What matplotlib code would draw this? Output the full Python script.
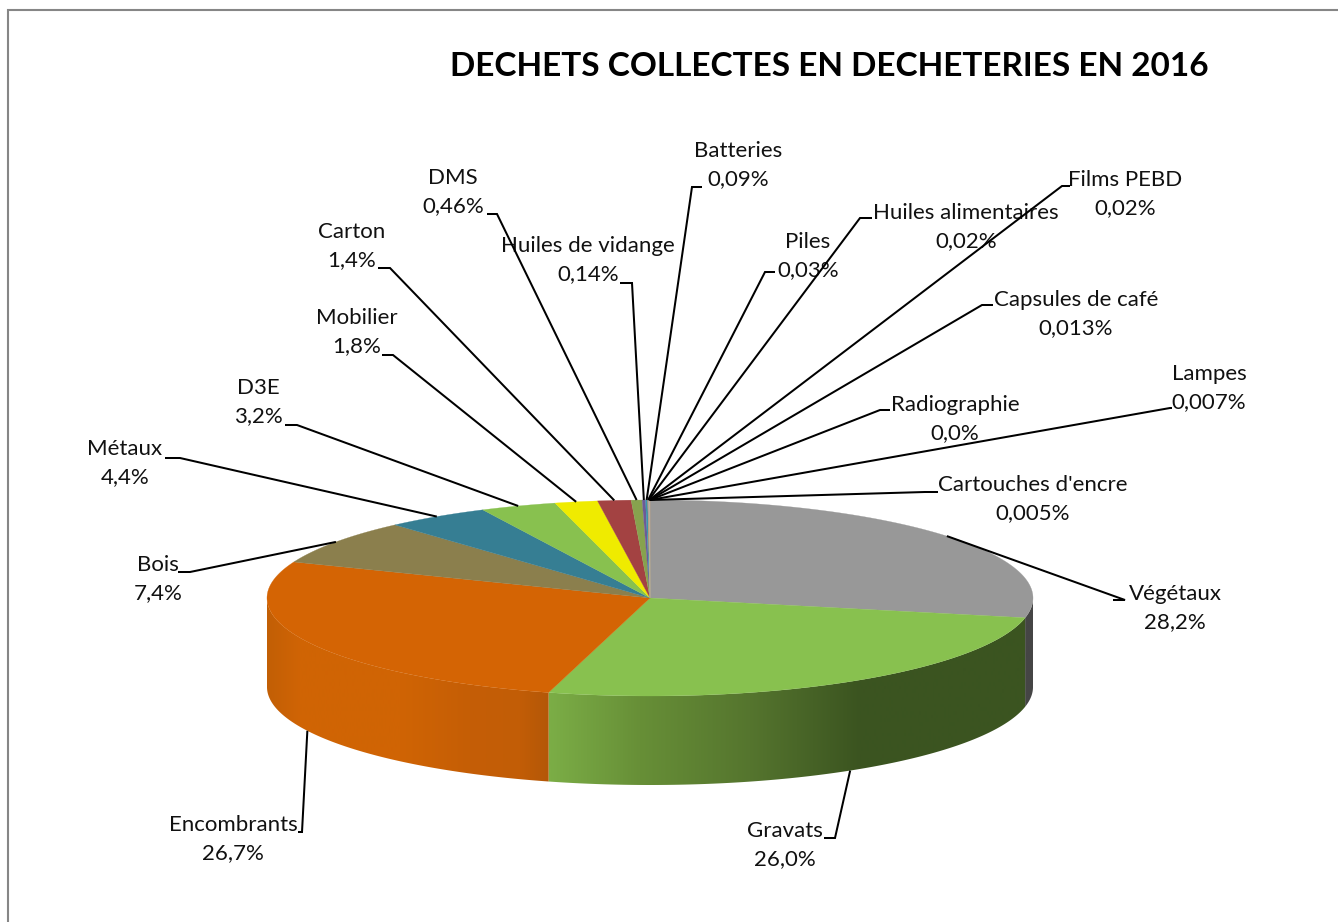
import numpy as np
import matplotlib
matplotlib.use("Agg")
import matplotlib.pyplot as plt
from matplotlib.colors import to_rgb
from matplotlib.patches import Polygon

TITLE = "DECHETS COLLECTES EN DECHETERIES EN 2016"
categories = ["Végétaux", "Gravats", "Encombrants", "Bois", "Métaux", "D3E", "Mobilier", "Carton",
              "DMS", "Huiles de vidange", "Batteries", "Piles", "Huiles alimentaires", "Films PEBD",
              "Capsules de café", "Radiographie", "Lampes", "Cartouches d'encre"]
values = [28.2, 26.0, 26.7, 7.4, 4.4, 3.2, 1.8, 1.4, 0.46, 0.14, 0.09, 0.03, 0.02, 0.02, 0.013, 0.0, 0.007, 0.005]
value_labels = ["28,2%", "26,0%", "26,7%", "7,4%", "4,4%", "3,2%", "1,8%", "1,4%", "0,46%", "0,14%", "0,09%",
                "0,03%", "0,02%", "0,02%", "0,013%", "0,0%", "0,007%", "0,005%"]
colors = ["#989898", "#88C14F", "#D46404", "#8B7F4D", "#367E93", "#88C14F", "#EFEB00", "#A34242",
          "#87A24E", "#6D5A96", "#3A93AC", "#D98A3C", "#8FA8D0", "#D08A88", "#B5CC88", "#A08FBE", "#80C0D0", "#E8A870"]

# layout (reference pixels)
CX, CY, RX, RY, DEPTH = 650, 598, 383, 98, 89
label_xy = [(1175, 608), (785, 845), (233, 839), (158, 579), (125, 463), (258, 402), (357, 332), (352, 246),
            (453, 192), (588, 260), (738, 165), (808, 256), (966, 227), (1125, 194), (1076, 314), (955, 419),
            (1209, 388), (1033, 499)]
elbow = [(1125, 600), (835, 838), (302, 832), (190, 572), (180, 458), (297, 425), (393, 355), (390, 268),
         (497, 214), (632, 283), (692, 187), (765, 272), (860, 218), (1062, 186), (982, 305), (880, 410),
         (1170, 408), (925, 492)]
stub = [(1113, 600), (824, 838), (298, 832), (178, 572), (165, 458), (285, 425), (382, 355), (378, 268),
        (487, 214), (620, 283), (702, 187), (775, 272), (872, 218), (1070, 186), (993, 305), (890, 410),
        (1172, 408), (938, 492)]
# side-wall shading: x position along the visible wall -> colour
side_stops = {
    "Végétaux": ([1025, 1034], ["#454545", "#454545"]),
    "Gravats": ([551, 640, 750, 860, 1034], ["#7BAD46", "#678F37", "#55752E", "#3B5420", "#3B5420"]),
    "Encombrants": ([267, 300, 400, 470, 520, 551], ["#C25F06", "#D06405", "#D06404", "#C55E06", "#C25D06", "#B35708"]),
}

FONT = "Lato"
W, H = 1338, 922
fig = plt.figure(figsize=(W / 100, H / 100), dpi=100, facecolor="white")
ax = fig.add_axes([0, 0, 1, 1])
ax.set_xlim(0, W)
ax.set_ylim(H, 0)
ax.axis("off")

ax.plot([8, 8, W], [H, 10, 10], color="#868686", lw=1.5, zorder=1, solid_joinstyle="miter")


def px(t):
    return CX + RX * np.sin(t)


def py(t):
    return CY - RY * np.cos(t)


vals = np.array(values, dtype=float)
ends = np.cumsum(vals) / vals.sum() * 2 * np.pi
starts = np.r_[0, ends[:-1]]

# side wall
for name, a, b in zip(categories, starts, ends):
    lo, hi = max(a, np.pi / 2), min(b, 3 * np.pi / 2)
    if hi <= lo or name not in side_stops:
        continue
    t = np.linspace(lo, hi, 200)
    x, y = px(t), py(t)
    verts = np.r_[np.c_[x, y], np.c_[x[::-1], y[::-1] + DEPTH]]
    poly = Polygon(verts, closed=True, fc="none", ec="none", transform=ax.transData)
    ax.add_patch(poly)
    xs = np.arange(int(x.min()) - 2, int(x.max()) + 3)
    stops_x, stops_c = side_stops[name]
    rgb = np.array([to_rgb(c) for c in stops_c])
    grad = np.stack([np.interp(xs, stops_x, rgb[:, i]) for i in range(3)], axis=-1)[None, :, :]
    im = ax.imshow(grad, extent=[xs[0], xs[-1], H, 0], aspect="auto", zorder=2, interpolation="bilinear")
    im.set_clip_path(poly)
ax.set_xlim(0, W)
ax.set_ylim(H, 0)

# top face
for v, a, b, c in zip(values, starts, ends, colors):
    if v <= 0:
        continue
    t = np.linspace(a, b, max(3, int((b - a) * 120)))
    verts = np.r_[[[CX, CY]], np.c_[px(t), py(t)]]
    ax.add_patch(Polygon(verts, closed=True, fc=c, ec=c, lw=0.2, zorder=3))

# leaders and labels
for name, lab, a, b, pos, el, st in zip(categories, value_labels, starts, ends, label_xy, elbow, stub):
    m = (a + b) / 2
    ax_, ay_ = px(m), py(m)
    if np.pi / 2 < m < 3 * np.pi / 2:
        ay_ += DEPTH
    ax.plot([ax_, el[0], st[0]], [ay_, el[1], st[1]], color="black", lw=1.45, zorder=5,
            solid_joinstyle="miter", solid_capstyle="butt")
    ax.text(pos[0], pos[1], f"{name}\n{lab}", ha="center", va="center", fontsize=16, family=FONT,
            color="#111111", linespacing=1.5, zorder=4)

ax.text(829, 66, TITLE, ha="center", va="center", fontsize=24, family=FONT, weight="bold", color="black", zorder=4)

fig.savefig("out.png", dpi=100, facecolor="white")
